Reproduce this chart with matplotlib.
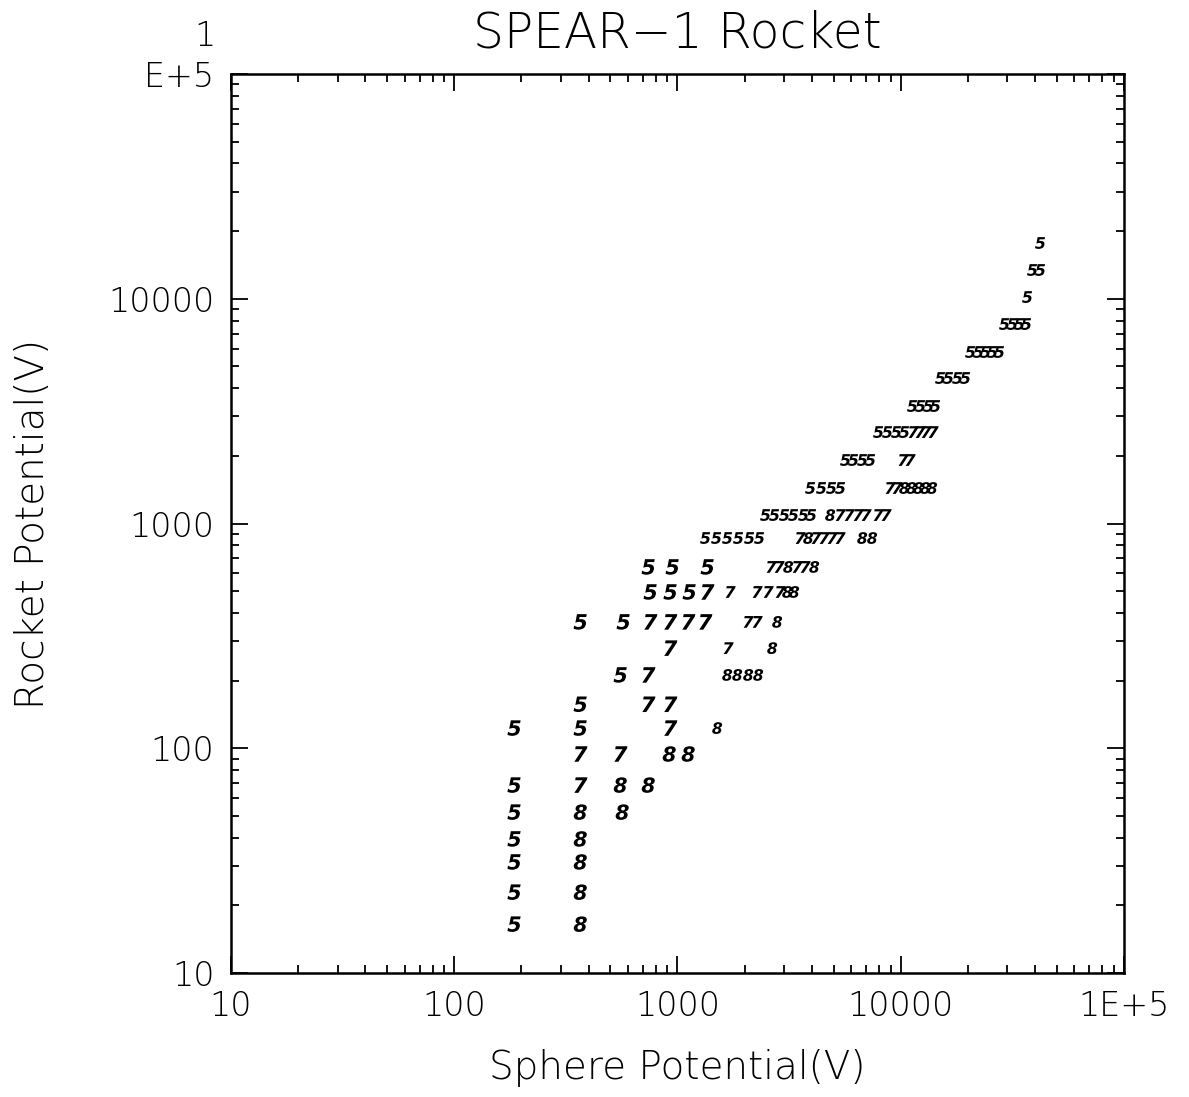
import matplotlib
matplotlib.use("Agg")
import matplotlib.pyplot as plt
from matplotlib.ticker import FixedLocator, LogLocator, NullFormatter
from matplotlib.textpath import TextPath
from matplotlib.font_manager import FontProperties
from matplotlib.path import Path

plt.rcParams['font.family'] = ['DejaVu Sans']

# points plotted with digit "5"
five_x = [185, 185, 185, 185, 185, 185, 185,
          366, 366, 366, 553, 570, 738, 753, 945, 925, 1126, 1356,
          1328, 1488, 1666, 1866, 2091, 2318,
          2466, 2706, 2999, 3291, 3650, 3963,
          3922, 4393, 4871, 5344,
          5627, 6111, 6706, 7285,
          7910, 8678, 9522, 10340,
          11230, 12200, 13250, 14240,
          14990, 16280, 17870, 19400,
          20430, 22180, 23840, 25630, 27550,
          29010, 31510, 33860, 36390,
          36770,
          38710, 42040,
          42040]
five_y = [16.5, 22.9, 31.2, 39.5, 52, 68.6, 123,
          123, 157, 365, 212, 365, 641, 496, 641, 496, 496, 641,
          862, 862, 862, 862, 862, 862,
          1091, 1091, 1091, 1091, 1091, 1091,
          1439, 1439, 1439, 1439,
          1917, 1917, 1917, 1917,
          2553, 2553, 2553, 2553,
          3333, 3333, 3333, 3333,
          4441, 4441, 4441, 4441,
          5797, 5797, 5797, 5797, 5797,
          7720, 7720, 7720, 7720,
          10180,
          13430, 13430,
          17710]

# points plotted with digit "7"
seven_x = [366, 553, 366, 925, 738, 925, 738, 925, 1684,
           753, 925, 1114, 1328, 2069, 2271,
           1356, 1719, 2271, 2544, 2878,
           2623, 2849, 3430, 3725,
           3537, 4172, 4532, 4921, 5344,
           5344, 5865, 6434, 6989, 7910, 8588,
           8950, 9622,
           10230, 11000,
           11350, 12200, 12980, 13950]
seven_y = [94.3, 94.3, 68.6, 123, 157, 157, 212, 279, 279,
           365, 365, 365, 365, 365, 365,
           496, 496, 496, 496, 496,
           641, 641, 641, 641,
           862, 862, 862, 862, 862,
           1091, 1091, 1091, 1091, 1091, 1091,
           1439, 1439,
           1917, 1917,
           2553, 2553, 2553, 2553]

# points plotted with digit "8"
eight_x = [366, 366, 366, 366, 366, 564, 553, 738, 916, 1114, 1503,
           1666, 1848, 2069, 2294, 2651, 2790, 3094, 3325,
           3126, 4088, 3841, 6706, 7433, 4820,
           10340, 11120, 11950, 12840, 13800]
eight_y = [16.5, 22.9, 31.2, 39.5, 52, 52, 68.6, 68.6, 94.3, 94.3, 123,
           212, 212, 212, 212, 279, 365, 496, 496,
           641, 641, 862, 862, 862, 1091,
           1439, 1439, 1439, 1439, 1439]

tick_vals = [10, 100, 1000, 10000, 100000]
x_ticklabels = ["10", "100", "1000", "10000", "1E+5"]
y_ticklabels = ["10", "100", "1000", "10000", "E+5"]


def digit_marker(d):
    # slanted glyph outline, centred on the data point
    tp = TextPath((0, 0), d, size=10,
                  prop=FontProperties(family="DejaVu Sans", style="oblique", weight="bold"))
    v = tp.vertices.copy()
    v[:, 0] -= (v[:, 0].min() + v[:, 0].max()) / 2
    v[:, 1] -= (v[:, 1].min() + v[:, 1].max()) / 2
    return Path(v, tp.codes)


def sizes(xs, ys):
    return [125 if (x < 1450 and y < 700) or x < 400 else 72 for x, y in zip(xs, ys)]


fig = plt.figure(figsize=(11.89, 10.97), dpi=100)
ax = fig.add_axes([0.1943, 0.1130, 0.751, 0.8195])

for xs, ys, d in [(five_x, five_y, "5"), (seven_x, seven_y, "7"), (eight_x, eight_y, "8")]:
    ax.scatter(xs, ys, marker=digit_marker(d), s=sizes(xs, ys), c="black",
               linewidths=0)

ax.set_xscale("log")
ax.set_yscale("log")
ax.set_xlim(10, 100000)
ax.set_ylim(10, 100000)

ax.xaxis.set_major_locator(FixedLocator(tick_vals))
ax.yaxis.set_major_locator(FixedLocator(tick_vals))
ax.xaxis.set_minor_locator(LogLocator(base=10, subs=range(2, 10)))
ax.yaxis.set_minor_locator(LogLocator(base=10, subs=range(2, 10)))
ax.xaxis.set_minor_formatter(NullFormatter())
ax.yaxis.set_minor_formatter(NullFormatter())
ax.set_xticklabels(x_ticklabels, fontsize=24, fontweight="light")
ax.set_yticklabels(y_ticklabels, fontsize=24, fontweight="light")

ax.tick_params(which="both", direction="in", top=True, right=True, width=1.3, colors="black")
ax.tick_params(which="major", length=12, pad=12)
ax.tick_params(which="minor", length=6)
for s in ax.spines.values():
    s.set_linewidth(1.8)

ax.annotate("1", xy=(0, 100000), xycoords=("axes fraction", "data"),
            xytext=(-11, 15), textcoords="offset points", ha="right", va="bottom",
            fontsize=24, fontweight="light")

ax.set_title("SPEAR\u22121 Rocket", fontsize=35, fontweight="light", pad=19)
ax.set_xlabel("Sphere Potential(V)", fontsize=28, fontweight="light")
ax.set_ylabel("Rocket Potential(V)", fontsize=28, fontweight="light")
ax.xaxis.set_label_coords(0.5, -0.085)
ax.yaxis.set_label_coords(-0.2, 0.5)

fig.savefig("out.png", dpi=100, facecolor="white")
